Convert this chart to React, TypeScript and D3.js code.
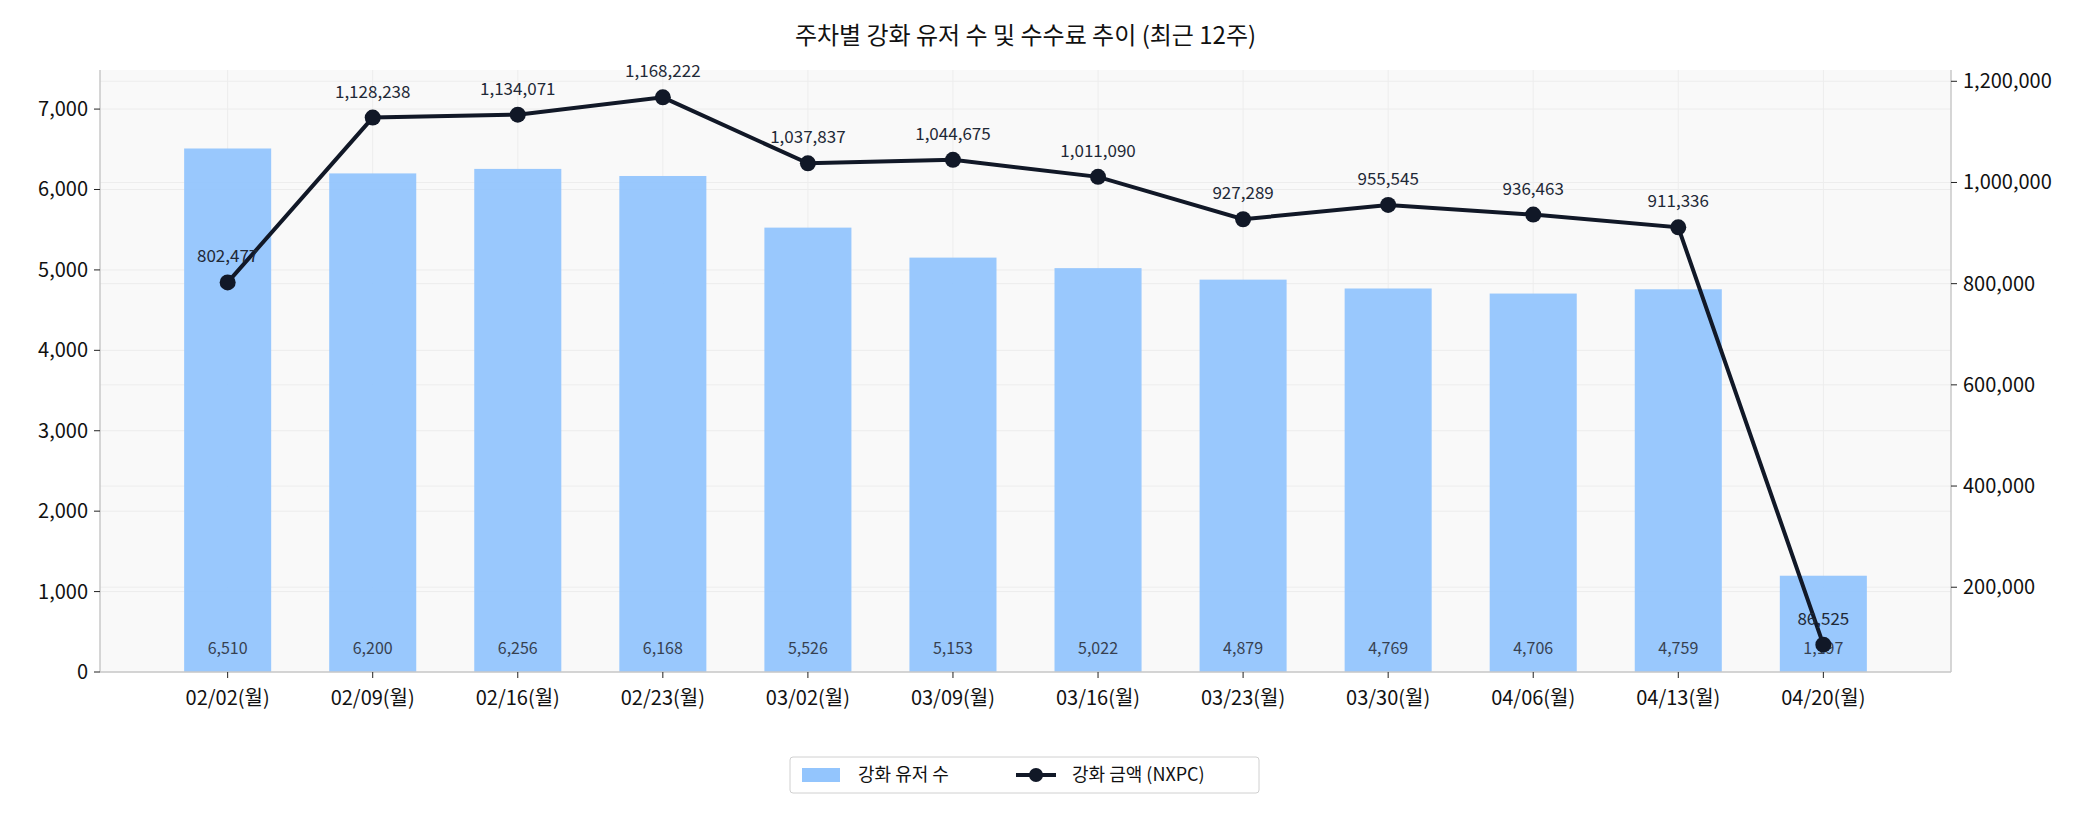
import React from 'react';
import { scaleLinear, line, format } from 'd3';

const weeks = ['02/02(월)', '02/09(월)', '02/16(월)', '02/23(월)', '03/02(월)', '03/09(월)', '03/16(월)', '03/23(월)', '03/30(월)', '04/06(월)', '04/13(월)', '04/20(월)'];
const users = [6510, 6200, 6256, 6168, 5526, 5153, 5022, 4879, 4769, 4706, 4759, 1197];
const fees = [802477, 1128238, 1134071, 1168222, 1037837, 1044675, 1011090, 927289, 955545, 936463, 911336, 86525];
const leftTicks = [0, 1000, 2000, 3000, 4000, 5000, 6000, 7000];
const rightTicks = [200000, 400000, 600000, 800000, 1000000, 1200000];

const W = 2100, H = 825;
const L = 100, R = 1951, T = 70, B = 672;
const font = '"Noto Sans CJK KR", "Noto Sans", sans-serif';
const fmt = format(',');

const App: React.FC = () => {
  const x = scaleLinear().domain([-0.88, weeks.length - 1 + 0.88]).range([L, R]);
  const yL = scaleLinear().domain([0, 7486]).range([B, T]);
  const yR = scaleLinear().domain([32440, 1222307]).range([B, T]);
  const bw = (x(1) - x(0)) * 0.6;
  const path = line<number>().x((_, i) => x(i)).y(d => yR(d))(fees)!;

  return (
    <svg width={W} height={H} style={{ display: 'block', margin: -8 }} fontFamily={font}>
      <rect x={0} y={0} width={W} height={H} fill="#fff" />
      <text x={(L + R) / 2} y={44} textAnchor="middle" fontSize={24} fill="#111">주차별 강화 유저 수 및 수수료 추이 (최근 12주)</text>
      <rect x={L} y={T} width={R - L} height={B - T} fill="#f9f9f9" />
      {leftTicks.map(t => (
        <line key={'gl' + t} x1={L} x2={R} y1={yL(t)} y2={yL(t)} stroke="#ececec" strokeWidth={1} />
      ))}
      {rightTicks.map(t => (
        <line key={'gr' + t} x1={L} x2={R} y1={yR(t)} y2={yR(t)} stroke="#ededed" strokeWidth={1} />
      ))}
      {weeks.map((_, i) => (
        <line key={'gx' + i} x1={x(i)} x2={x(i)} y1={T} y2={B} stroke="#ededed" strokeWidth={1} />
      ))}
      {users.map((u, i) => (
        <g key={'b' + i}>
          <rect x={x(i) - bw / 2} y={yL(u)} width={bw} height={B - yL(u)} fill="#93c5fd" opacity={0.95} />
          <text x={x(i)} y={B - 18} textAnchor="middle" fontSize={16} fill="#374151">{fmt(u)}</text>
        </g>
      ))}
      <path d={path} fill="none" stroke="#111827" strokeWidth={4} />
      {fees.map((f, i) => (
        <g key={'p' + i}>
          <circle cx={x(i)} cy={yR(f)} r={8} fill="#111827" />
          <text x={x(i)} y={yR(f) - 20} textAnchor="middle" fontSize={17} fill="#1f2937">{fmt(f)}</text>
        </g>
      ))}
      <line x1={L} x2={L} y1={T} y2={B} stroke="#c8c8c8" strokeWidth={1.5} />
      <line x1={R} x2={R} y1={T} y2={B} stroke="#c8c8c8" strokeWidth={1.5} />
      <line x1={L} x2={R} y1={B} y2={B} stroke="#c8c8c8" strokeWidth={1.5} />
      {leftTicks.map(t => (
        <g key={'tl' + t}>
          <line x1={L - 6} x2={L} y1={yL(t)} y2={yL(t)} stroke="#222" />
          <text x={L - 12} y={yL(t)} dy="0.35em" textAnchor="end" fontSize={20} fill="#111">{fmt(t)}</text>
        </g>
      ))}
      {rightTicks.map(t => (
        <g key={'tr' + t}>
          <line x1={R} x2={R + 6} y1={yR(t)} y2={yR(t)} stroke="#222" />
          <text x={R + 12} y={yR(t)} dy="0.35em" fontSize={20} fill="#111">{fmt(t)}</text>
        </g>
      ))}
      {weeks.map((w, i) => (
        <g key={'tx' + i}>
          <line x1={x(i)} x2={x(i)} y1={B} y2={B + 6} stroke="#222" />
          <text x={x(i)} y={B + 33} textAnchor="middle" fontSize={20} fill="#111">{w}</text>
        </g>
      ))}
      <g transform="translate(790,757)">
        <rect x={0} y={0} width={469} height={36} rx={3} fill="#fff" stroke="#d0d0d0" />
        <rect x={12} y={11} width={38} height={14} fill="#93c5fd" />
        <text x={68} y={18} dy="0.35em" fontSize={18} fill="#111">강화 유저 수</text>
        <line x1={226} x2={266} y1={18} y2={18} stroke="#111827" strokeWidth={4} />
        <circle cx={246} cy={18} r={7} fill="#111827" />
        <text x={282} y={18} dy="0.35em" fontSize={18} fill="#111">강화 금액 (NXPC)</text>
      </g>
    </svg>
  );
};

export default App;
